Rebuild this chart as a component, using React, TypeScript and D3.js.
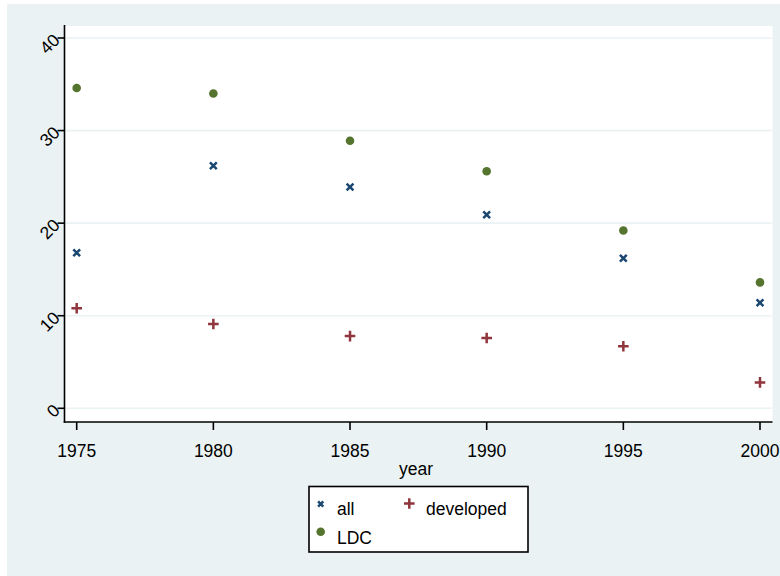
import React from "react";
import * as d3 from "d3";

const years = [1975, 1980, 1985, 1990, 1995, 2000];
const allValues = [16.8, 26.2, 23.9, 20.9, 16.2, 11.4];
const ldcValues = [34.6, 34.0, 28.9, 25.6, 19.2, 13.6];
const developedValues = [10.8, 9.1, 7.8, 7.6, 6.7, 2.8];
const yTicks = [0, 10, 20, 30, 40];
const xTicks = [1975, 1980, 1985, 1990, 1995, 2000];

const BG = "#eaf2f3";
const NAVY = "#1a476f";
const MAROON = "#90353b";
const GREEN = "#55752f";
const FONT = "'Liberation Sans', Arial, Helvetica, sans-serif";
const FS = 17.5;

const plotLeft = 64.5;
const plotRight = 772.5;
const plotTop = 26;
const plotBottom = 422;

const x = d3.scaleLinear().domain([1975, 2000]).range([76.7, 760]);
const y = d3.scaleLinear().domain([0, 40]).range([408.3, 38]);

function XMark({ cx, cy, s = 3.4 }: { cx: number; cy: number; s?: number }) {
  return (
    <path
      d={`M${cx - s},${cy - s}L${cx + s},${cy + s}M${cx - s},${cy + s}L${cx + s},${cy - s}`}
      stroke={NAVY}
      strokeWidth={2.5}
      fill="none"
    />
  );
}

function PlusMark({ cx, cy, s = 5.3 }: { cx: number; cy: number; s?: number }) {
  return (
    <path
      d={`M${cx - s},${cy}L${cx + s},${cy}M${cx},${cy - s}L${cx},${cy + s}`}
      stroke={MAROON}
      strokeWidth={2.5}
      fill="none"
    />
  );
}

export default function App() {
  return (
    <svg
      width={780}
      height={576}
      style={{ position: "absolute", left: 0, top: 0, display: "block" }}
      fontFamily={FONT}
    >
      <rect x={0} y={0} width={780} height={576} fill="#ffffff" />
      <rect x={7} y={4} width={773} height={572} fill={BG} />
      <rect
        x={plotLeft}
        y={plotTop}
        width={plotRight - plotLeft}
        height={plotBottom - plotTop}
        fill="#ffffff"
      />
      {yTicks.map((t) => (
        <line
          key={"g" + t}
          x1={plotLeft}
          x2={plotRight - 1}
          y1={y(t)}
          y2={y(t)}
          stroke={BG}
          strokeWidth={1.6}
        />
      ))}
      <line x1={plotLeft} x2={plotLeft} y1={plotTop - 1} y2={plotBottom + 0.8} stroke="#000" strokeWidth={1.6} />
      <line x1={plotLeft - 0.8} x2={plotRight} y1={plotBottom} y2={plotBottom} stroke="#000" strokeWidth={1.6} />
      {yTicks.map((t) => (
        <g key={"yt" + t}>
          <line x1={plotLeft - 7} x2={plotLeft} y1={y(t)} y2={y(t)} stroke="#000" strokeWidth={1.6} />
          <text
            transform={`translate(${plotLeft - 7},${y(t)}) rotate(-45)`}
            textAnchor="end"
            dominantBaseline="middle"
            fontSize={FS}
            fill="#000"
          >
            {t}
          </text>
        </g>
      ))}
      {xTicks.map((t) => (
        <g key={"xt" + t}>
          <line x1={x(t)} x2={x(t)} y1={plotBottom} y2={plotBottom + 8} stroke="#000" strokeWidth={1.6} />
          <text x={x(t)} y={457} textAnchor="middle" fontSize={FS} fill="#000">
            {t}
          </text>
        </g>
      ))}
      <text x={416} y={475} textAnchor="middle" fontSize={FS} fill="#000">
        year
      </text>
      {years.map((yr, i) => (
        <XMark key={"a" + yr} cx={x(yr)} cy={y(allValues[i])} />
      ))}
      {years.map((yr, i) => (
        <circle key={"l" + yr} cx={x(yr)} cy={y(ldcValues[i])} r={4.3} fill={GREEN} />
      ))}
      {years.map((yr, i) => (
        <PlusMark key={"d" + yr} cx={x(yr)} cy={y(developedValues[i])} />
      ))}
      <rect x={309} y={486.5} width={219} height={65.5} fill="#ffffff" stroke="#000" strokeWidth={1.6} />
      <XMark cx={320.7} cy={504} s={2.6} />
      <text x={337} y={515} fontSize={FS} fill="#000">all</text>
      <PlusMark cx={409.3} cy={503.5} s={5.3} />
      <text x={426} y={515} fontSize={FS} fill="#000">developed</text>
      <circle cx={320.7} cy={531.7} r={4.3} fill={GREEN} />
      <text x={337} y={544} fontSize={FS} fill="#000">LDC</text>
    </svg>
  );
}
